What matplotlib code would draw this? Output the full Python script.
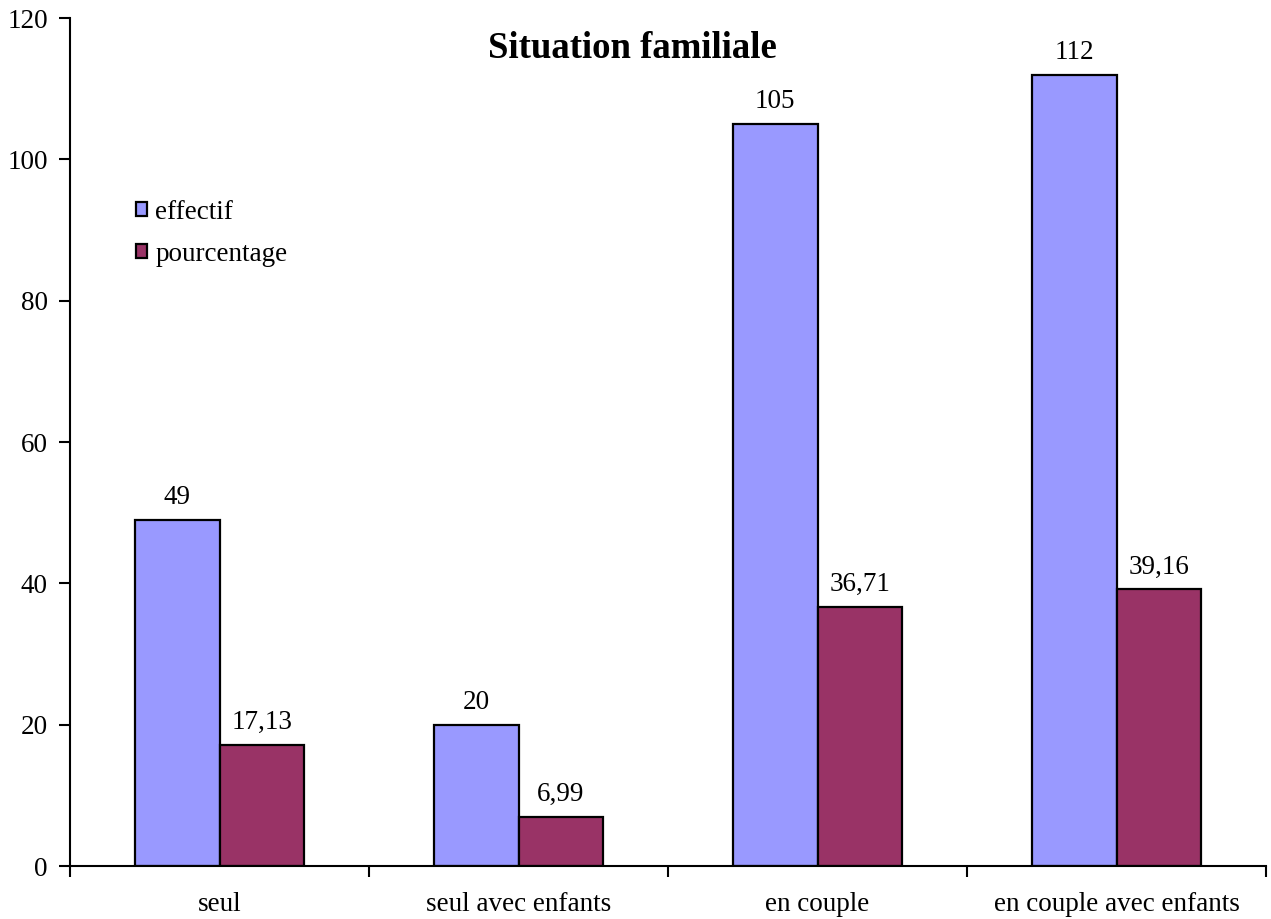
import matplotlib.pyplot as plt
import numpy as np

plt.rcParams['font.family'] = ['Liberation Serif', 'DejaVu Serif']

# donnees
categories = ['seul', 'seul avec enfants', 'en couple', 'en couple avec enfants']
effectif = [49, 20, 105, 112]
pourcentage = [17.13, 6.99, 36.71, 39.16]
labels_eff = ['49', '20', '105', '112']
labels_pct = ['17,13', '6,99', '36,71', '39,16']

fig = plt.figure(figsize=(12.71, 9.19), dpi=100)
ax = fig.add_axes([70/1271, 53/919, 1196/1271, 848/919])

x = np.arange(len(categories))
w = 0.284
b1 = ax.bar(x - w/2, effectif, w, color='#9999FF', edgecolor='black', linewidth=1.6, label='effectif')
b2 = ax.bar(x + w/2, pourcentage, w, color='#993366', edgecolor='black', linewidth=1.6, label='pourcentage')

fs = 19.5
for bars, labs in [(b1, labels_eff), (b2, labels_pct)]:
    for r, t in zip(bars, labs):
        ax.annotate(t, (r.get_x() + r.get_width()/2, r.get_height()),
                    xytext=(0, 7), textcoords='offset points',
                    ha='center', va='bottom', fontsize=fs)

ax.set_xlim(-0.5, len(categories) - 0.5)
ax.set_ylim(0, 120)
ax.set_yticks(np.arange(0, 121, 20))
ax.set_xticks(np.arange(-0.5, len(categories), 1.0))
ax.set_xticklabels([])
ax.set_xticks(x, minor=True)
ax.set_xticklabels(categories, minor=True)
ax.tick_params(axis='x', which='minor', length=0, pad=19, labelsize=fs)
ax.tick_params(axis='x', which='major', length=8, width=1.5, direction='out')
ax.tick_params(axis='y', length=8, width=1.5, direction='out', labelsize=fs, pad=8)

for s in ['top', 'right']:
    ax.spines[s].set_visible(False)
for s in ['left', 'bottom']:
    ax.spines[s].set_linewidth(1.5)

fig.text(632/1271, 1 - 48/919, 'Situation familiale', ha='center', va='center',
         fontsize=26.5, fontweight='bold')

ax.legend(loc='upper left', bbox_to_anchor=(136/1271, 1 - 200/919),
          bbox_transform=fig.transFigure, frameon=False, fontsize=fs,
          handlelength=0.42, handleheight=0.42, handletextpad=0.3,
          labelspacing=0.62, borderpad=0, borderaxespad=0)

fig.savefig('out.png', dpi=100)
